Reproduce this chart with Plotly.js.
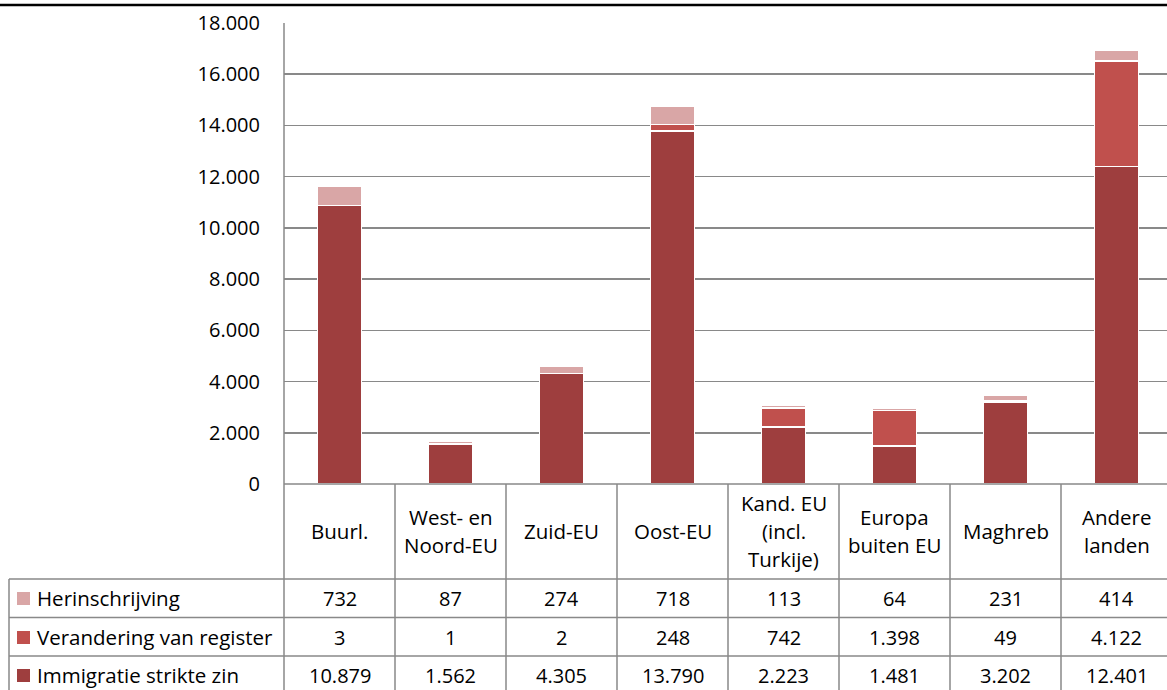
<!DOCTYPE html>
<html>
<head>
<meta charset="utf-8">
<script src="https://cdn.plot.ly/plotly-3.0.1.min.js"></script>
<style>html,body{margin:0;padding:0;background:#fff;}#chart{width:1167px;height:690px;}</style>
</head>
<body>
<div id="chart"></div>
<script>
// ---- data ----
var categories = ["Buurl.", "West- en|Noord-EU", "Zuid-EU", "Oost-EU", "Kand. EU|(incl.|Turkije)", "Europa|buiten EU", "Maghreb", "Andere|landen"];
var seriesNames = ["Herinschrijving", "Verandering van register", "Immigratie strikte zin"];
var herinschrijving = [732, 87, 274, 718, 113, 64, 231, 414];
var verandering = [3, 1, 2, 248, 742, 1398, 49, 4122];
var immigratie = [10879, 1562, 4305, 13790, 2223, 1481, 3202, 12401];
var yTicks = [0, 2000, 4000, 6000, 8000, 10000, 12000, 14000, 16000, 18000];

var colors = {herin: "#D9A6A6", verand: "#C0504D", immig: "#9E3E3E"};
var FONT = "Open Sans, Noto Sans, sans-serif";
var FS_NUM = 20;
var FS_TXT = 20.5;

// ---- geometry helpers (layout only) ----
var W = 1167, H = 690;
var mL = 284, mT = 23, mB = 206, mR = 0;
var plotW = W - mL - mR, plotH = H - mT - mB;
var xMin = -0.5, xMax = -0.5 + plotW / 111;
function px2x(px) { return (px - mL) / plotW; }
function py2y(py) { return (H - mB - py) / plotH; }
function cat2x(i) { return (i - xMin) / (xMax - xMin); }

var xIdx = categories.map(function (c, i) { return i; });

function fmt(v) { return String(v).replace(/\B(?=(\d{3})+(?!\d))/g, "."); }

var traces = [
  {type: "bar", x: xIdx, y: immigratie, name: seriesNames[2], marker: {color: colors.immig, line: {color: "#ffffff", width: 1.5}}, width: 0.4, hoverinfo: "y"},
  {type: "bar", x: xIdx, y: verandering, name: seriesNames[1], marker: {color: colors.verand, line: {color: "#ffffff", width: 1.5}}, width: 0.4, hoverinfo: "y"},
  {type: "bar", x: xIdx, y: herinschrijving, name: seriesNames[0], marker: {color: colors.herin, line: {color: "#ffffff", width: 1.5}}, width: 0.4, hoverinfo: "y"}
];

var GRID = "#898989";
var shapes = [];
var annotations = [];

// top black rule
shapes.push({type: "line", xref: "paper", yref: "paper", x0: px2x(0), x1: 1, y0: py2y(5), y1: py2y(5), line: {color: "#000", width: 2.5}});

// table horizontal lines
var rowLines = [484, 579, 617.5, 656];
rowLines.forEach(function (py, k) {
  shapes.push({type: "line", xref: "paper", yref: "paper", x0: k === 0 ? 0 : px2x(9), x1: 1, y0: py2y(py), y1: py2y(py), line: {color: GRID, width: 1.5}});
});
// vertical lines
shapes.push({type: "line", xref: "paper", yref: "paper", x0: px2x(9), x1: px2x(9), y0: py2y(579), y1: py2y(H + 5), line: {color: GRID, width: 1.5}});
for (var k = 0; k <= categories.length; k++) {
  var xx = cat2x(k - 0.5);
  if (xx > 1.001) continue;
  shapes.push({type: "line", xref: "paper", yref: "paper", x0: xx, x1: xx, y0: k === 0 ? 1 : py2y(484), y1: py2y(H + 5), line: {color: GRID, width: 1.5}});
}

// header row (category labels), one annotation per line
var PITCH = 28, HEAD_CY = 531;
categories.forEach(function (c, i) {
  var lines = c.split("|");
  lines.forEach(function (ln, j) {
    var cy = HEAD_CY + (j - (lines.length - 1) / 2) * PITCH;
    annotations.push({xref: "paper", yref: "paper", x: cat2x(i), y: py2y(cy), text: ln, showarrow: false, xanchor: "center", yanchor: "middle", align: "center", font: {family: FONT, size: FS_TXT, color: "#000"}});
  });
});

// data rows
var rows = [
  {name: seriesNames[0], vals: herinschrijving, color: colors.herin, cy: 598},
  {name: seriesNames[1], vals: verandering, color: colors.verand, cy: 637},
  {name: seriesNames[2], vals: immigratie, color: colors.immig, cy: 675}
];
rows.forEach(function (r) {
  shapes.push({type: "rect", xref: "paper", yref: "paper", x0: px2x(17), x1: px2x(30), y0: py2y(r.cy - 6), y1: py2y(r.cy + 7), fillcolor: r.color, line: {width: 0}});
  annotations.push({xref: "paper", yref: "paper", x: px2x(35), y: py2y(r.cy), text: r.name, showarrow: false, xanchor: "left", yanchor: "middle", font: {family: FONT, size: FS_TXT, color: "#000"}});
  r.vals.forEach(function (v, i) {
    annotations.push({xref: "paper", yref: "paper", x: cat2x(i), y: py2y(r.cy), text: fmt(v), showarrow: false, xanchor: "center", yanchor: "middle", font: {family: FONT, size: FS_NUM, color: "#000"}});
  });
});

var layout = {
  width: W, height: H,
  margin: {l: mL, r: mR, t: mT, b: mB, pad: 0},
  paper_bgcolor: "#fff", plot_bgcolor: "#fff",
  barmode: "stack",
  showlegend: false,
  separators: ",.",
  xaxis: {type: "linear", range: [xMin, xMax], showticklabels: false, showgrid: false, zeroline: false, ticks: "", fixedrange: true},
  yaxis: {range: [0, 18000], tickvals: yTicks, tickformat: ",", showgrid: true, gridcolor: GRID, gridwidth: 1.5, zeroline: false, showline: false, ticks: "", ticklabelstandoff: 23, tickfont: {family: FONT, size: FS_NUM, color: "#000"}, fixedrange: true},
  shapes: shapes,
  annotations: annotations,
  font: {family: FONT, size: FS_NUM, color: "#000"}
};

Plotly.newPlot("chart", traces, layout, {displayModeBar: false, staticPlot: true});
</script>
</body>
</html>
